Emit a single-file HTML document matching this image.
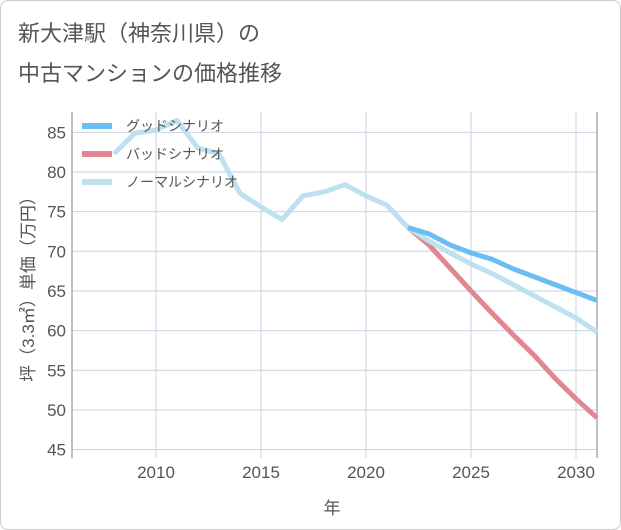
<!DOCTYPE html>
<html><head><meta charset="utf-8"><style>
body{margin:0;background:#fff;font-family:"Liberation Sans","Noto Sans CJK JP",sans-serif}
#wrap{position:relative;width:619px;height:528px;border:1px solid #ccc;border-radius:8px;overflow:hidden}
.t{position:absolute;left:17px;color:#555;font-size:22px}
</style></head><body>
<div id="wrap">
<div class="t" style="top:15px">新大津駅（神奈川県）の</div>
<div class="t" style="top:55px">中古マンションの価格推移</div>
<svg id="c" width="621" height="530" style="position:absolute;left:-1px;top:-1px"></svg>
</div>
<script>
const years=[2008,2009,2010,2011,2012,2013,2014,2015,2016,2017,2018,2019,2020,2021,2022];
const normalHist=[82.3,84.9,85.3,86.5,83,82.3,77.3,75.6,74,77,77.5,78.4,77,75.8,73];
const projYears=[2022,2023,2024,2025,2026,2027,2028,2029,2030,2031];
const good=[73,72.2,70.8,69.8,69,67.8,66.8,65.8,64.8,63.8];
const bad=[73,70.8,67.9,65,62.2,59.5,56.9,54,51.4,49];
const normal=[73,71.3,69.8,68.4,67.2,65.8,64.4,63,61.6,59.8];
const yTicks=[45,50,55,60,65,70,75,80,85];
const xTicks=[2010,2015,2020,2025,2030];
const X=y=>156+(y-2010)*21, Y=v=>172-(v-80)*7.93;
const L=72,R=597,T=112,B=458;
const s=document.getElementById('c'),NS='http://www.w3.org/2000/svg';
function el(t,a,p){const e=document.createElementNS(NS,t);for(const k in a)e.setAttribute(k,a[k]);(p||s).appendChild(e);return e;}
yTicks.forEach(v=>{const g=el('line',{x1:L,x2:R,y1:Y(v),y2:Y(v),stroke:'#c8d3df','stroke-width':1});


const t=el('text',{x:66,y:Y(v)+6,'text-anchor':'end','font-size':17,fill:'#555'});t.textContent=v;

});
xTicks.forEach(v=>{const g=el('line',{x1:X(v),x2:X(v),y1:T,y2:B,stroke:'#c8d3df','stroke-width':1});


const t=el('text',{x:X(v),y:478,'text-anchor':'middle','font-size':17,fill:'#555'});t.textContent=v;

});
const ax=el('line',{x1:L,x2:L,y1:T,y2:B,stroke:'#aab','stroke-width':1.5});


const ax2=el('line',{x1:R,x2:R,y1:T,y2:B,stroke:'#aab','stroke-width':1.5});


function line(xs,vs,c,n){const p=el('polyline',{points:xs.map((x,i)=>X(x)+','+Y(vs[i])).join(' '),fill:'none',stroke:c,'stroke-width':5,'stroke-linejoin':'round'});

}
line(years,normalHist,'#bfe0ef','normal-history-line');
line(projYears,bad,'#e0878f','bad-scenario-line');
line(projYears,normal,'#bfe0ef','normal-scenario-line');
line(projYears,good,'#6bbef3','good-scenario-line');
[['グッドシナリオ','#6bbef3',126],['バッドシナリオ','#e0878f',154],['ノーマルシナリオ','#bfe0ef',182]].forEach(a=>{
const r=el('rect',{x:82,y:a[2]-3,width:30,height:6,fill:a[1]});


const t=el('text',{x:126,y:a[2]+5,'font-size':14,fill:'#555'});t.textContent=a[0];

});
const yl=el('text',{x:0,y:0,'font-size':17,fill:'#555','text-anchor':'middle',transform:'translate(34,285) rotate(-90)'});yl.textContent='坪（3.3㎡）単価（万円）';


const xl=el('text',{x:332,y:514,'font-size':17,fill:'#555','text-anchor':'middle'});xl.textContent='年';


</script>
</body></html>
